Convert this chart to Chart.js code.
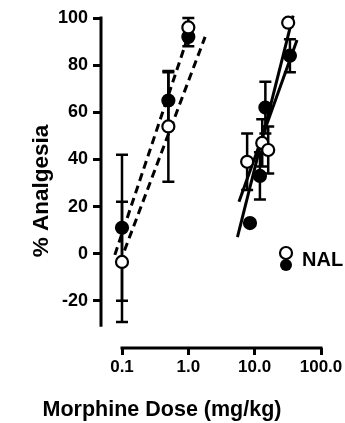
<!DOCTYPE html>
<html><head><meta charset="utf-8">
<script src="https://cdn.jsdelivr.net/npm/chart.js@4.4.1/dist/chart.umd.min.js"></script>
<style>html,body{margin:0;padding:0;background:#fff}#wrap{width:345px;height:423px}</style>
</head><body><div id="wrap"><canvas id="c" width="345" height="423"></canvas></div>
<script>
// ---- data ----
const controlDose = [0.1, 0.5, 1.0, 7.7, 13, 16, 32];
const controlPct  = [-3.5, 54, 96, 39, 47, 44, 98];
const controlErr  = [25.5, 23.5, 4, 12, 10, 10, 0];

const nalDose = [0.1, 0.5, 1.0, 8.5, 12, 14.5, 34];
const nalPct  = [11, 65, 92, 13, 33, 62, 84];
const nalErr  = [31, 12, 4, 0, 10, 11, 7];

// regression lines (end points)
const fitControlLowDose  = [0.093, 1.79];
const fitControlLowPct   = [-3.8, 92];
const fitNalLowDose      = [0.078, 1.1];
const fitNalLowPct       = [-0.5, 96];
const fitControlHighDose = [5.8, 43.5];
const fitControlHighPct  = [22, 90.7];
const fitNalHighDose     = [5.5, 38];
const fitNalHighPct      = [7, 101];

const yTicks = [-20, 0, 20, 40, 60, 80, 100];
const xTicks = [0.1, 1, 10, 100];
const xTickLabels = ['0.1', '1.0', '10.0', '100.0'];
const yAxisBottom = -31;
const legendLabel = 'NAL';
const xTitle = 'Morphine Dose (mg/kg)';
const yTitle = '% Analgesia';

// ---- helpers ----
const pts = (xs, ys) => xs.map((x, i) => ({x: x, y: ys[i]}));
const FONT = '"Liberation Sans", Arial, sans-serif';

const pointSet = (label, xs, ys, errs, filled, order) => ({
  label, data: pts(xs, ys), err: errs, showLine: false, order,
  pointRadius: 6, pointHoverRadius: 6,
  pointBackgroundColor: filled ? '#000' : '#fff',
  pointBorderColor: '#000', pointBorderWidth: 2.2, clip: false
});
const lineSet = (label, xs, ys, dashed) => ({
  label, data: pts(xs, ys), showLine: true, order: 5,
  pointRadius: 0, borderColor: '#000', borderWidth: 3,
  borderDash: dashed ? [8, 5] : [], clip: false
});

const axesAndBars = {
  id: 'axesAndBars',
  beforeDatasetsDraw(chart) {
    const {ctx, scales: {x, y}, chartArea} = chart;
    ctx.save();
    ctx.strokeStyle = '#000';
    ctx.lineWidth = 3;
    ctx.lineCap = 'butt';
    // y axis line
    ctx.beginPath();
    ctx.moveTo(chartArea.left, y.getPixelForValue(100) - 1.5);
    ctx.lineTo(chartArea.left, y.getPixelForValue(yAxisBottom));
    ctx.stroke();
    // x axis line
    ctx.beginPath();
    ctx.moveTo(x.getPixelForValue(xTicks[0]) - 1.5, chartArea.bottom);
    ctx.lineTo(x.getPixelForValue(xTicks[xTicks.length - 1]) + 1.5, chartArea.bottom);
    ctx.stroke();
    // error bars
    ctx.lineWidth = 2.5;
    chart.data.datasets.forEach(ds => {
      if (!ds.err) return;
      ds.data.forEach((p, i) => {
        const e = ds.err[i];
        if (!e) return;
        const px = x.getPixelForValue(p.x);
        const top = y.getPixelForValue(p.y + e);
        const bot = y.getPixelForValue(p.y - e);
        ctx.beginPath();
        ctx.moveTo(px, top); ctx.lineTo(px, bot);
        ctx.moveTo(px - 6, top); ctx.lineTo(px + 6, top);
        ctx.moveTo(px - 6, bot); ctx.lineTo(px + 6, bot);
        ctx.stroke();
      });
    });
    ctx.restore();
  },
  afterDraw(chart) {
    const {ctx} = chart;
    ctx.save();
    // axis titles
    ctx.fillStyle = '#000';
    ctx.textAlign = 'center';
    ctx.textBaseline = 'middle';
    ctx.font = 'bold 21.5px ' + FONT;
    ctx.fillText(xTitle, 162, 410);
    ctx.font = 'bold 22.5px ' + FONT;
    ctx.save();
    ctx.translate(42, 191);
    ctx.rotate(-Math.PI / 2);
    ctx.fillText(yTitle, 0, 0);
    ctx.restore();
    // legend
    ctx.lineWidth = 2.2;
    ctx.strokeStyle = '#000';
    ctx.fillStyle = '#000';
    ctx.beginPath(); ctx.arc(286, 265, 6, 0, Math.PI * 2); ctx.fill();
    ctx.fillStyle = '#fff';
    ctx.beginPath(); ctx.arc(286, 253, 6, 0, Math.PI * 2); ctx.fill(); ctx.stroke();
    ctx.fillStyle = '#000';
    ctx.font = 'bold 20px ' + FONT;
    ctx.textBaseline = 'middle';
    ctx.textAlign = 'left';
    ctx.fillText(legendLabel, 302, 260);
    ctx.restore();
  }
};

new Chart(document.getElementById('c'), {
  type: 'scatter',
  data: {
    datasets: [
      pointSet('Control', controlDose, controlPct, controlErr, false, 0),
      pointSet('NAL', nalDose, nalPct, nalErr, true, 1),
      lineSet('Control fit (low)', fitControlLowDose, fitControlLowPct, true),
      lineSet('NAL fit (low)', fitNalLowDose, fitNalLowPct, true),
      lineSet('Control fit (high)', fitControlHighDose, fitControlHighPct, false),
      lineSet('NAL fit (high)', fitNalHighDose, fitNalHighPct, false)
    ]
  },
  options: {
    responsive: false,
    animation: false,
    events: [],
    layout: {padding: {top: 18, right: 24, bottom: 0, left: 0}},
    plugins: {legend: {display: false}, tooltip: {enabled: false}},
    scales: {
      x: {
        type: 'logarithmic',
        min: 0.04824, max: 100,
        border: {display: false},
        grid: {drawOnChartArea: false, color: '#000', lineWidth: 3, tickLength: 7},
        afterBuildTicks: s => { s.ticks = xTicks.map(v => ({value: v})); },
        afterFit: s => { s.height = 75; },
        ticks: {
          color: '#000', padding: 2, maxRotation: 0, autoSkip: false,
          font: {family: FONT, size: 17, weight: 'bold'},
          callback: (v) => { const i = xTicks.indexOf(v); return i >= 0 ? xTickLabels[i] : ''; }
        },
        title: {display: false}
      },
      y: {
        min: -40, max: 100,
        border: {display: false},
        grid: {drawOnChartArea: false, color: '#000', lineWidth: 3, tickLength: 8},
        afterBuildTicks: s => { s.ticks = yTicks.map(v => ({value: v})); },
        afterFit: s => { s.width = 101; },
        ticks: {color: '#000', padding: 5, font: {family: FONT, size: 18, weight: 'bold'}},
        title: {display: false}
      }
    }
  },
  plugins: [axesAndBars]
});
</script>
</body></html>
